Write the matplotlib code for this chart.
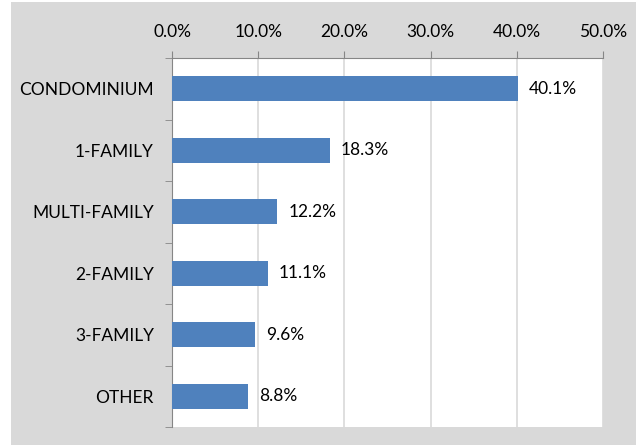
import matplotlib.pyplot as plt
from matplotlib.patches import Rectangle
from matplotlib.ticker import FuncFormatter

# 数据
categories = ['CONDOMINIUM', '1-FAMILY', 'MULTI-FAMILY', '2-FAMILY', '3-FAMILY', 'OTHER']
shares = [40.1, 18.3, 12.2, 11.1, 9.6, 8.8]

plt.rcParams['font.family'] = ['Lato', 'DejaVu Sans']

W, H = 636, 446
fig = plt.figure(figsize=(W / 100, H / 100), dpi=100, facecolor='white')

# 灰色背景
fig.patches.append(Rectangle((11 / W, 1 / H), 1 - 11 / W, (H - 3) / H,
                             transform=fig.transFigure, facecolor='#d9d9d9',
                             edgecolor='none', zorder=-10))

# 绘图区位置 (像素)
left, right, top, bottom = 172, 603, 58, 427
ax = fig.add_axes([left / W, 1 - bottom / H, (right - left) / W, (bottom - top) / H])
ax.set_zorder(5)
ax.set_facecolor('white')

y = list(range(len(categories)))
ax.barh(y, shares, height=0.41, color='#4f81bd', zorder=3)

for yi, v in zip(y, shares):
    ax.text(v + 1.3, yi, f'{v:.1f}%', va='center', ha='left', fontsize=12.5, color='black', zorder=4)

ax.set_xlim(0, 50)
ax.set_ylim(len(categories) - 0.5, -0.5)
ax.set_xticks([0, 10, 20, 30, 40, 50])
ax.xaxis.set_major_formatter(FuncFormatter(lambda x, p: f'{x:.1f}%'))
ax.xaxis.tick_top()
ax.tick_params(axis='x', direction='out', length=5, color='#868686', labelsize=12.5, pad=8)

ax.set_yticks(y)
ax.set_yticklabels(categories, fontsize=12.5)
ax.set_yticks([i + 0.5 for i in range(-1, len(categories))], minor=True)
ax.tick_params(axis='y', which='major', length=0, pad=13)
ax.tick_params(axis='y', which='minor', direction='out', length=5, color='#868686')

ax.grid(axis='x', color='#d9d9d9', linewidth=1.2, zorder=0)
ax.spines['right'].set_visible(False)
ax.spines['bottom'].set_visible(False)
ax.spines['top'].set_color('#868686')
ax.spines['left'].set_color('#868686')

plt.savefig('out.png', dpi=100, facecolor=fig.get_facecolor())
plt.close()
